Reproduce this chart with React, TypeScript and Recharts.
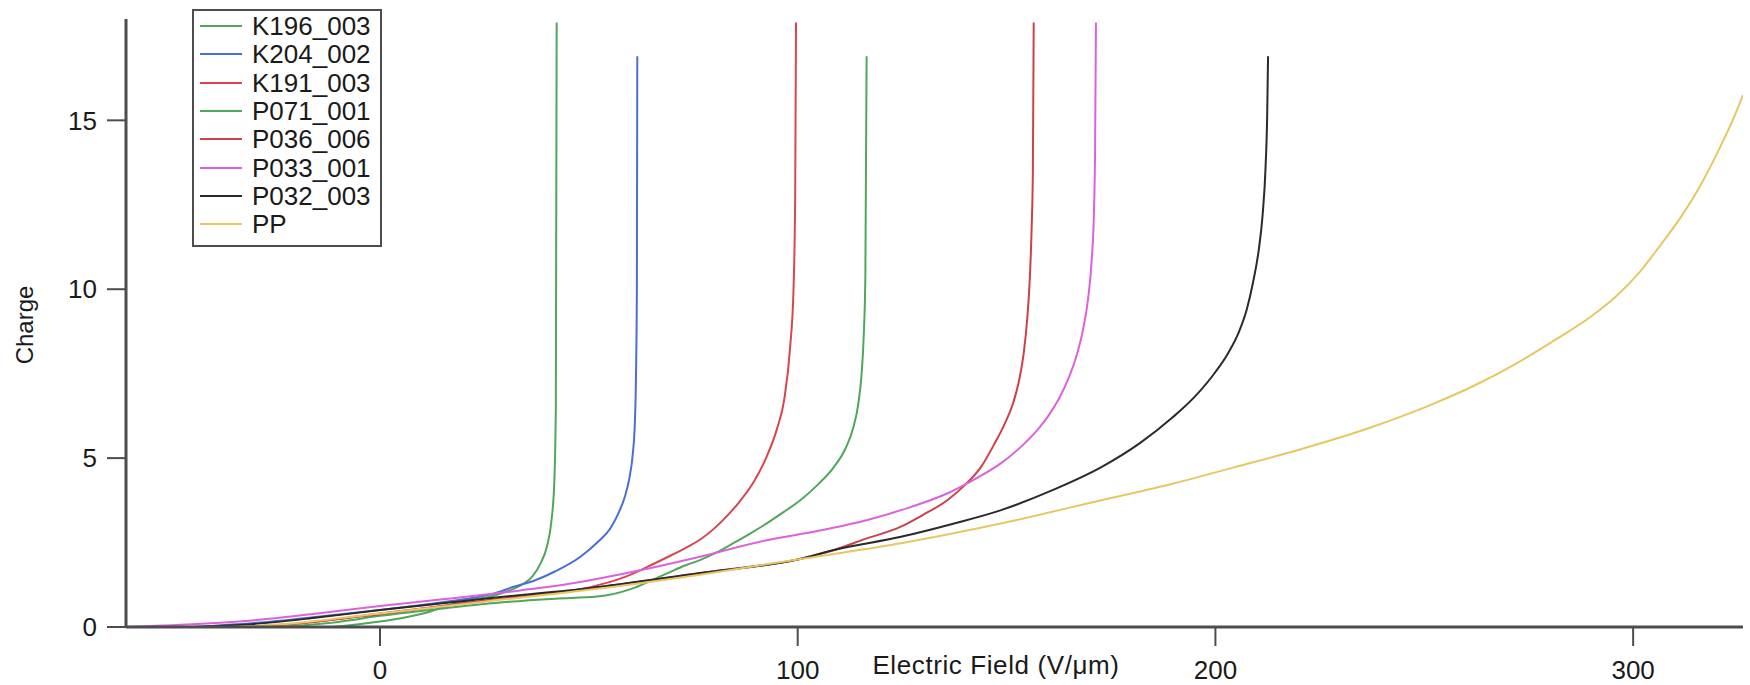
import React from "react";
import { LineChart, Line, XAxis, YAxis, Label } from "recharts";

// Electric field (V/um) and charge for each sample
const k196X = [-11.5, -5, 0, 5, 11, 17, 22, 27, 31, 34, 36.5, 38.5, 40, 41, 41.7, 42.1, 42.3];
const k196Y = [0, 0.08, 0.16, 0.26, 0.42, 0.66, 0.8, 0.92, 1.08, 1.25, 1.5, 1.9, 2.4, 3.1, 4.2, 6.5, 17.9];

const k204X = [-45, -30, -15, 0, 10, 20, 27, 32, 37.3, 42, 48, 52, 55.4, 57.2, 58.6, 59.7, 60.5, 61, 61.3, 61.5, 61.6];
const k204Y = [0, 0.12, 0.3, 0.5, 0.65, 0.82, 0.98, 1.19, 1.39, 1.65, 2.08, 2.5, 2.97, 3.4, 3.85, 4.4, 5.1, 6.0, 7.5, 10, 16.9];

const k191X = [-33, -20, 0, 15, 30, 40, 48, 54, 59, 64, 69, 73, 77, 82, 86, 89.5, 92.6, 95, 96.8, 98.2, 99, 99.4, 99.6];
const k191Y = [0, 0.1, 0.4, 0.62, 0.85, 1.0, 1.12, 1.3, 1.5, 1.78, 2.08, 2.33, 2.62, 3.15, 3.7, 4.3, 5.05, 5.85, 6.75, 8.3, 10.0, 12.8, 17.9];

const p071X = [-25, -10, 0, 15, 30, 42, 52, 60, 65, 69, 73, 76.6, 80.5, 84.6, 88.5, 92.6, 96.6, 100.7, 104.7, 108.7, 111.5, 113.3, 114.5, 115.3, 115.8, 116.2, 116.5];
const p071Y = [0, 0.15, 0.33, 0.55, 0.74, 0.84, 0.9, 1.12, 1.38, 1.6, 1.82, 1.98, 2.2, 2.48, 2.76, 3.07, 3.4, 3.76, 4.2, 4.74, 5.3, 5.9, 6.6, 7.5, 8.6, 10.4, 16.9];

const p036X = [-33, -20, 0, 20, 40, 60, 80, 100, 108.7, 116, 124.7, 130, 135.9, 140, 143.9, 147, 149.5, 151.5, 153, 154.1, 155, 155.6, 156, 156.3, 156.5];
const p036Y = [0, 0.1, 0.38, 0.7, 0.98, 1.3, 1.65, 2.0, 2.28, 2.6, 2.97, 3.32, 3.76, 4.2, 4.74, 5.4, 6.0, 6.6, 7.3, 8.1, 9.2, 10.4, 11.8, 13.5, 17.9];

const p033X = [-61, -45, -30, -15, 0, 15, 30, 45, 60, 76.6, 92.6, 105, 116.7, 127, 135.9, 142, 148.7, 154, 157.5, 160, 162.5, 164.8, 166.8, 168.3, 169.5, 170.4, 170.9, 171.2, 171.4];
const p033Y = [0, 0.08, 0.2, 0.4, 0.62, 0.82, 1.03, 1.27, 1.62, 2.08, 2.57, 2.85, 3.17, 3.55, 3.96, 4.35, 4.85, 5.4, 5.85, 6.25, 6.75, 7.35, 8.05, 8.8, 9.7, 10.9, 12.2, 14.2, 17.9];

const p032X = [-45, -30, -15, 0, 15, 30, 50, 76.6, 100, 108.7, 124.7, 137, 148.7, 161, 172.8, 182, 189.7, 195.3, 200, 203, 205.5, 207.5, 209, 210.3, 211.3, 212, 212.4, 212.6];
const p032Y = [0, 0.09, 0.28, 0.5, 0.7, 0.9, 1.15, 1.6, 2.0, 2.28, 2.67, 3.05, 3.46, 4.05, 4.74, 5.45, 6.2, 6.85, 7.55, 8.1, 8.7, 9.4, 10.2, 11.1, 12.2, 13.6, 15.2, 16.9];

const ppX = [-35, -20, 0, 25, 50, 76.6, 100, 124.7, 150, 172.9, 190, 204.9, 220, 237, 252, 262, 272, 282, 290, 296, 301.5, 306.5, 311.5, 316, 321, 324, 326.3];
const ppY = [0, 0.12, 0.4, 0.75, 1.1, 1.55, 2.0, 2.48, 3.1, 3.76, 4.25, 4.74, 5.25, 5.9, 6.6, 7.15, 7.8, 8.55, 9.2, 9.8, 10.5, 11.3, 12.15, 13.05, 14.25, 15.05, 15.75];

const xTicks = [0, 100, 200, 300];
const yTicks = [0, 5, 10, 15];

const series = [
  { name: "K196_003", color: "#4fa75a", xs: k196X, ys: k196Y },
  { name: "K204_002", color: "#4a6fd4", xs: k204X, ys: k204Y },
  { name: "K191_003", color: "#d94550", xs: k191X, ys: k191Y },
  { name: "P071_001", color: "#4fa75a", xs: p071X, ys: p071Y },
  { name: "P036_006", color: "#cf4049", xs: p036X, ys: p036Y },
  { name: "P033_001", color: "#db62dc", xs: p033X, ys: p033Y },
  { name: "P032_003", color: "#2a2a2a", xs: p032X, ys: p032Y },
  { name: "PP", color: "#e6c762", xs: ppX, ys: ppY },
];

const toPoints = (xs: number[], ys: number[]) => xs.map((x, i) => ({ x, y: ys[i] }));

const FONT = "'Liberation Sans', Arial, Helvetica, sans-serif";
const AXIS = "#4d4d4d";

export default function App() {
  return (
    <div
      style={{
        position: "absolute",
        left: 0,
        top: 0,
        width: 1750,
        height: 685,
        background: "#fff",
        fontFamily: FONT,
      }}
    >
      <LineChart width={1750} height={685} margin={{ top: 19, right: 7, bottom: 0, left: 0 }}>
        <XAxis
          type="number"
          dataKey="x"
          domain={[-60.8, 326.3]}
          allowDataOverflow
          ticks={xTicks}
          height={58}
          tickSize={19}
          tickMargin={15}
          axisLine={{ stroke: AXIS, strokeWidth: 3 }}
          tickLine={{ stroke: AXIS, strokeWidth: 2 }}
          tick={{ fontSize: 26, fill: "#1a1a1a", fontFamily: FONT }}
        >
          <Label
            content={() => (
              <text
                x={996}
                y={674}
                textAnchor="middle"
                fontSize={26}
                letterSpacing={0.6}
                fill="#1a1a1a"
                fontFamily={FONT}
              >
                Electric Field (V/μm)
              </text>
            )}
          />
        </XAxis>
        <YAxis
          type="number"
          domain={[0, 18]}
          allowDataOverflow
          ticks={yTicks}
          width={126}
          tickSize={19}
          tickMargin={10}
          axisLine={{ stroke: AXIS, strokeWidth: 3 }}
          tickLine={{ stroke: AXIS, strokeWidth: 2 }}
          tick={{ fontSize: 26, fill: "#1a1a1a", fontFamily: FONT }}
        >
          <Label
            content={() => (
              <text
                x={24}
                y={325}
                transform="rotate(-90 24 325)"
                textAnchor="middle"
                dominantBaseline="central"
                fontSize={24}
                fill="#1a1a1a"
                fontFamily={FONT}
              >
                Charge
              </text>
            )}
          />
        </YAxis>
        {series.map((s) => (
          <Line
            key={s.name}
            data={toPoints(s.xs, s.ys)}
            dataKey="y"
            name={s.name}
            type="monotone"
            stroke={s.color}
            strokeWidth={2}
            dot={false}
            activeDot={false}
            isAnimationActive={false}
          />
        ))}
      </LineChart>

      {/* Legend */}
      <div
        style={{
          position: "absolute",
          left: 192,
          top: 9,
          width: 190,
          height: 238,
          border: `2px solid ${AXIS}`,
          boxSizing: "border-box",
          background: "#fff",
          paddingTop: 1,
        }}
      >
        {series.map((s) => (
          <div key={s.name} style={{ display: "flex", alignItems: "center", height: 28.3 }}>
            <span style={{ marginLeft: 6, width: 42, height: 2, background: s.color, display: "inline-block" }} />
            <span style={{ marginLeft: 10, fontSize: 26, lineHeight: "28px", color: "#1a1a1a" }}>{s.name}</span>
          </div>
        ))}
      </div>
    </div>
  );
}
